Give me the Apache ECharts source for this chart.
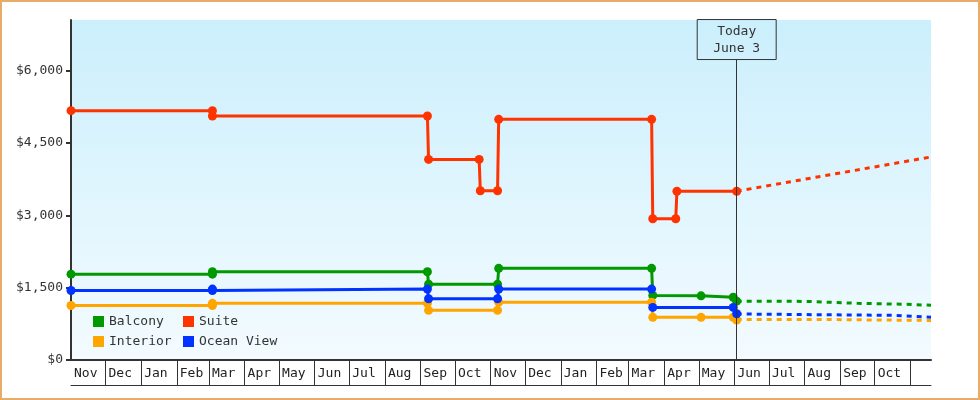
<!DOCTYPE html>
<html>
<head>
<meta charset="utf-8">
<script src="https://cdn.jsdelivr.net/npm/echarts@6/dist/echarts.min.js"></script>
<style>
  html, body { margin: 0; padding: 0; background: #fff; }
  #wrap { position: relative; width: 980px; height: 400px; }
  #chart { position: absolute; left: 0; top: 0; width: 980px; height: 400px; }
  #frame { position: absolute; left: 0; top: 0; width: 980px; height: 400px; box-sizing: border-box;
           border: 2px solid #e9ab68; pointer-events: none; }
</style>
</head>
<body>
<div id="wrap"><div id="chart"></div><div id="frame"></div></div>
<script>
const FONT = '"DejaVu Sans Mono", monospace';

// month cells under the plot, first one starts Nov 2016
const monthLabels = ['Nov', 'Dec', 'Jan', 'Feb', 'Mar', 'Apr', 'May', 'Jun', 'Jul', 'Aug', 'Sep', 'Oct',
                     'Nov', 'Dec', 'Jan', 'Feb', 'Mar', 'Apr', 'May', 'Jun', 'Jul', 'Aug', 'Sep', 'Oct'];
const yTicks = [0, 1500, 3000, 4500, 6000];
const today = '2018-06-03';

// price history, [date, price]
const balcony = [
  ['2016-11-01', 1780], ['2017-03-04', 1780], ['2017-03-04', 1830], ['2017-09-07', 1830],
  ['2017-09-08', 1570], ['2017-11-07', 1570], ['2017-11-08', 1900], ['2018-03-21', 1900],
  ['2018-03-22', 1340], ['2018-05-03', 1330], ['2018-05-31', 1300], ['2018-06-03', 1220]
];
const suite = [
  ['2016-11-01', 5170], ['2017-03-04', 5170], ['2017-03-04', 5060], ['2017-09-07', 5060],
  ['2017-09-08', 4160], ['2017-10-22', 4160], ['2017-10-23', 3510], ['2017-11-07', 3510],
  ['2017-11-08', 4990], ['2018-03-21', 4990], ['2018-03-22', 2930], ['2018-04-11', 2930],
  ['2018-04-12', 3500], ['2018-06-03', 3500]
];
const interior = [
  ['2016-11-01', 1130], ['2017-03-04', 1130], ['2017-03-04', 1175], ['2017-09-07', 1175],
  ['2017-09-08', 1030], ['2017-11-07', 1030], ['2017-11-08', 1200], ['2018-03-21', 1200],
  ['2018-03-22', 885], ['2018-05-03', 885], ['2018-05-31', 885], ['2018-06-03', 830]
];
const oceanView = [
  ['2016-11-01', 1440], ['2017-03-04', 1440], ['2017-03-04', 1470], ['2017-09-07', 1470],
  ['2017-09-08', 1270], ['2017-11-07', 1270], ['2017-11-08', 1470], ['2018-03-21', 1470],
  ['2018-03-22', 1090], ['2018-05-31', 1090], ['2018-06-03', 960]
];

// projected prices after today (dotted)
const balconyForecast = [
  ['2018-06-03', 1220], ['2018-08-04', 1215], ['2018-08-05', 1175], ['2018-09-16', 1175],
  ['2018-09-17', 1155], ['2018-10-29', 1155], ['2018-10-30', 1135], ['2018-11-19', 1135]
];
const suiteForecast = [['2018-06-03', 3500], ['2018-11-19', 4210]];
const interiorForecast = [['2018-06-03', 840], ['2018-08-17', 840], ['2018-08-18', 820], ['2018-11-19', 820]];
const oceanViewForecast = [
  ['2018-06-03', 955], ['2018-07-04', 948], ['2018-07-05', 925], ['2018-10-20', 925],
  ['2018-10-21', 885], ['2018-11-19', 885]
];

const colors = { Balcony: '#009900', Suite: '#ff3300', Interior: '#ffa500', 'Ocean View': '#0033ff' };

const xMin = new Date(2016, 10, 1).getTime();
const xMax = new Date(2018, 10, 19).getTime();
const monthStarts = [];
for (let i = 0; i <= 24; i++) monthStarts.push(new Date(2016, 10 + i, 1).getTime());

function histSeries(name, data) {
  return {
    name, type: 'line', data,
    symbol: 'circle', symbolSize: 9,
    itemStyle: { color: colors[name] },
    lineStyle: { color: colors[name], width: 3 },
    animation: false
  };
}
function forecastSeries(name, data) {
  return {
    name, type: 'line', data, symbol: 'none',
    itemStyle: { color: colors[name] },
    lineStyle: { color: colors[name], width: 3, type: [5, 5] },
    animation: false
  };
}

const suiteHist = histSeries('Suite', suite);
suiteHist.markLine = {
  silent: true, symbol: 'none', animation: false,
  lineStyle: { color: '#333', width: 1, type: 'solid' },
  label: {
    show: true, position: 'end', distance: 0,
    formatter: 'Today\nJune 3',
    fontFamily: FONT, fontSize: 13, color: '#333', lineHeight: 17,
    borderColor: '#333', borderWidth: 1, padding: [4, 16, 2, 16], align: 'center'
  },
  data: [[{ coord: [today, 0] }, { coord: [today, 6230] }]]
};

const legendBase = {
  orient: 'vertical', top: 310, icon: 'rect', itemWidth: 11, itemHeight: 11, itemGap: 7,
  textStyle: { fontFamily: FONT, fontSize: 13, color: '#333' }
};

const chart = echarts.init(document.getElementById('chart'));
chart.setOption({
  backgroundColor: '#fff',
  textStyle: { fontFamily: FONT },
  grid: {
    left: 71, right: 49, top: 20, bottom: 40, show: true, borderWidth: 0,
    backgroundColor: new echarts.graphic.LinearGradient(0, 0, 0, 1, [
      { offset: 0, color: '#cbeffc' },
      { offset: 1, color: '#f3fbff' }
    ])
  },
  legend: [
    Object.assign({}, legendBase, { left: 88, data: ['Balcony', 'Interior'] }),
    Object.assign({}, legendBase, { left: 178, data: ['Suite', 'Ocean View'] })
  ],
  xAxis: [
    {
      type: 'time', min: xMin, max: xMax,
      axisLine: { show: true, lineStyle: { color: '#333', width: 2 } },
      axisTick: { show: false }, axisLabel: { show: false }, splitLine: { show: false }
    },
    {
      // month cell row: plain numeric axis over the same time span
      type: 'value', min: xMin, max: xMax, position: 'bottom', offset: 25,
      axisLine: { show: true, lineStyle: { color: '#333', width: 1 } },
      axisTick: {
        show: true, inside: true, length: 25, customValues: monthStarts.slice(1),
        lineStyle: { color: '#333', width: 1 }
      },
      axisLabel: {
        show: true, inside: true, margin: 5, align: 'left', padding: [0, 0, 0, 3],
        customValues: monthStarts.slice(0, 24),
        formatter: v => monthLabels[monthStarts.indexOf(v)],
        fontFamily: FONT, fontSize: 13, color: '#222'
      },
      splitLine: { show: false }
    }
  ],
  yAxis: {
    type: 'value', min: 0, max: 7050,
    axisLine: { show: true, lineStyle: { color: '#333', width: 2 } },
    axisTick: { show: true, length: 5, customValues: yTicks, lineStyle: { color: '#333', width: 2 } },
    axisLabel: {
      customValues: yTicks, margin: 8,
      formatter: v => '$' + v.toLocaleString('en-US'),
      fontFamily: FONT, fontSize: 13, color: '#333'
    },
    splitLine: { show: false }
  },
  series: [
    histSeries('Balcony', balcony),
    suiteHist,
    histSeries('Interior', interior),
    histSeries('Ocean View', oceanView),
    forecastSeries('Balcony', balconyForecast),
    forecastSeries('Suite', suiteForecast),
    forecastSeries('Interior', interiorForecast),
    forecastSeries('Ocean View', oceanViewForecast)
  ]
});
</script>
</body>
</html>
